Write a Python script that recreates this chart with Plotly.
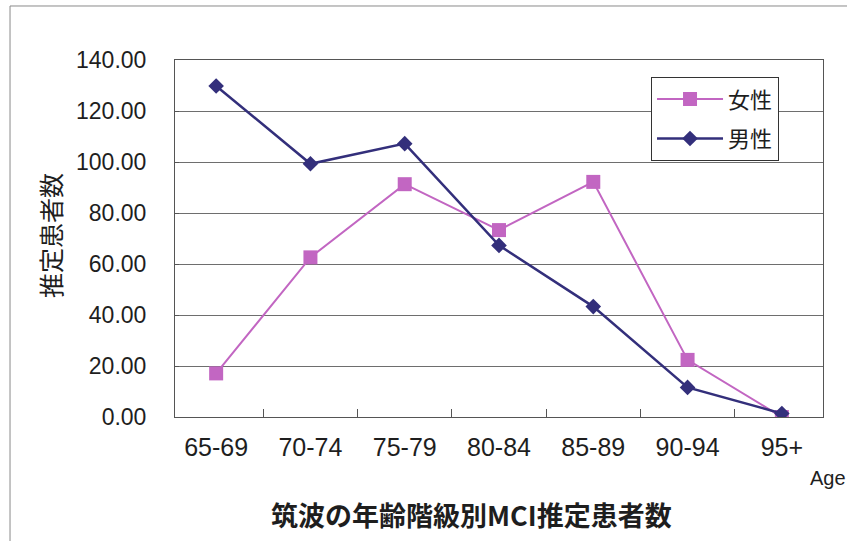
import plotly.graph_objects as go

# Age groups (x categories)
age_groups = ["65-69", "70-74", "75-79", "80-84", "85-89", "90-94", "95+"]

# Estimated MCI patients per age group
female_counts = [17.1, 62.6, 91.3, 73.3, 92.2, 22.4, 0.0]
male_counts = [129.8, 99.3, 107.2, 67.3, 43.3, 11.6, 1.4]

series_names = ["女性", "男性"]
y_ticks = [0, 20, 40, 60, 80, 100, 120, 140]

FEMALE_COLOR = "#C266C2"
MALE_COLOR = "#332F7B"
TEXT_COLOR = "#1e1e1e"

fig = go.Figure()

fig.add_trace(go.Scatter(
    x=age_groups, y=female_counts, name=series_names[0],
    mode="lines+markers", legendgroup="f",
    line=dict(color=FEMALE_COLOR, width=2),
    marker=dict(symbol="square", size=14, color=FEMALE_COLOR),
))
fig.add_trace(go.Scatter(
    x=age_groups, y=male_counts, name=series_names[1],
    mode="lines+markers", legendgroup="m",
    line=dict(color=MALE_COLOR, width=2.5),
    marker=dict(symbol="diamond", size=12, color=MALE_COLOR),
))

fig.update_layout(
    width=847, height=541,
    margin=dict(l=175, r=24, t=60, b=124),
    paper_bgcolor="white", plot_bgcolor="white",
    font=dict(family="Liberation Sans, Arial, sans-serif", color=TEXT_COLOR),
    showlegend=True,
    legend=dict(
        x=0.7346, y=0.952, xanchor="left", yanchor="top",
        bgcolor="white", bordercolor="#333333", borderwidth=1,
        font=dict(family="Noto Sans CJK JP", size=22, color=TEXT_COLOR),
        traceorder="grouped", tracegroupgap=8, itemwidth=66,
    ),
)

fig.update_xaxes(
    type="category",
    showgrid=False,
    showline=True, linecolor="#555555", linewidth=1, mirror=True,
    ticks="inside", tickson="boundaries", ticklen=8, tickcolor="#555555",
    tickfont=dict(family="Liberation Sans", size=25, color=TEXT_COLOR),
    ticklabelstandoff=8,
    fixedrange=True,
)

fig.update_yaxes(
    range=[0, 140],
    tickvals=y_ticks, tickformat=".2f",
    showgrid=True, gridcolor="#6e6e6e", gridwidth=1,
    showline=True, linecolor="#555555", linewidth=1, mirror=True,
    ticks="inside", ticklen=4, tickcolor="#555555",
    tickfont=dict(family="Liberation Sans", size=23, color=TEXT_COLOR),
    ticklabelstandoff=23,
    zeroline=False,
    fixedrange=True,
)

# Y-axis caption, x-axis unit and chart title
fig.add_annotation(
    text="推定患者数", xref="paper", yref="paper",
    x=-0.1929, y=0.507, xanchor="center", yanchor="middle",
    textangle=-90, showarrow=False,
    font=dict(family="Noto Sans CJK JP", size=25, color=TEXT_COLOR),
)
fig.add_annotation(
    text="Age", xref="paper", yref="paper",
    x=1.0077, y=-0.171, xanchor="center", yanchor="middle",
    showarrow=False,
    font=dict(family="Liberation Sans", size=20, color=TEXT_COLOR),
)
fig.add_annotation(
    text="<b>筑波の年齢階級別MCI推定患者数</b>", xref="paper", yref="paper",
    x=0.4583, y=-0.2745, xanchor="center", yanchor="middle",
    showarrow=False,
    font=dict(family="Noto Sans CJK JP", size=27, color=TEXT_COLOR),
)

# Outer chart frame
fig.add_shape(
    type="rect", xref="paper", yref="paper",
    x0=-0.2546, x1=1.06, y0=-0.37, y1=1.1513,
    line=dict(color="#8a8a8a", width=1), layer="below",
)

fig.write_html("out.html")
